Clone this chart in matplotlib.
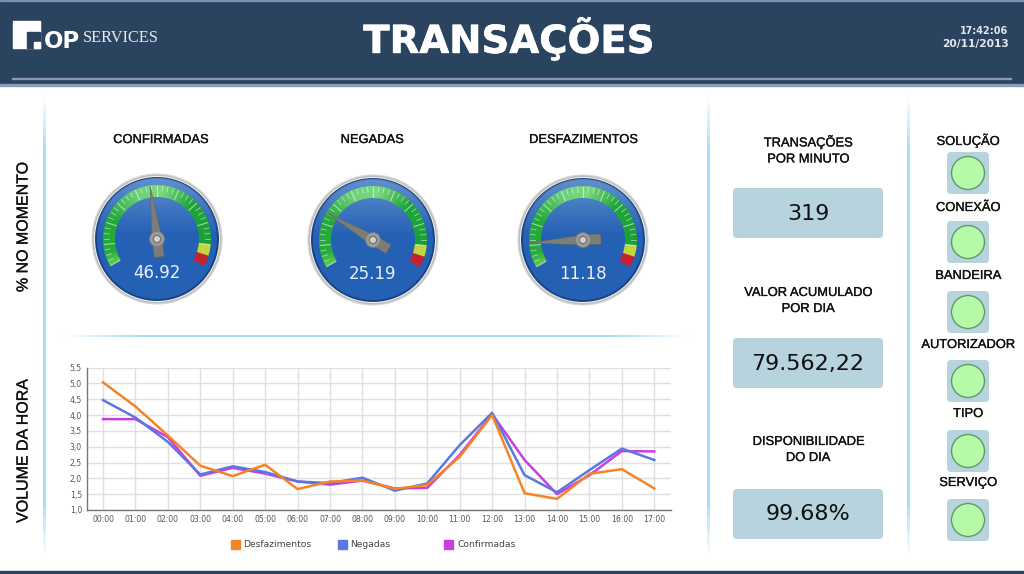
import numpy as np
import matplotlib
matplotlib.use('Agg')
import matplotlib.pyplot as plt
import matplotlib.patheffects as pe
from matplotlib.colors import LinearSegmentedColormap, to_rgb
from matplotlib.patches import Circle, FancyBboxPatch, Polygon, Rectangle

# chart values
hours = ['00:00', '01:00', '02:00', '03:00', '04:00', '05:00', '06:00', '07:00', '08:00',
         '09:00', '10:00', '11:00', '12:00', '13:00', '14:00', '15:00', '16:00', '17:00']
desfazimentos = [5.03, 4.27, 3.35, 2.40, 2.07, 2.43, 1.66, 1.90, 1.93,
                 1.67, 1.79, 2.68, 4.00, 1.53, 1.35, 2.14, 2.29, 1.68]
negadas = [4.47, 3.92, 3.15, 2.12, 2.38, 2.20, 1.90, 1.85, 2.02,
           1.61, 1.84, 3.05, 4.07, 2.10, 1.56, 2.26, 2.94, 2.58]
confirmadas = [3.87, 3.87, 3.30, 2.08, 2.33, 2.15, 1.90, 1.80, 1.93,
               1.68, 1.70, 2.74, 4.03, 2.58, 1.50, 2.10, 2.86, 2.85]
y_ticks = [1.0, 1.5, 2.0, 2.5, 3.0, 3.5, 4.0, 4.5, 5.0, 5.5]

gauge_names = ['CONFIRMADAS', 'NEGADAS', 'DESFAZIMENTOS']
gauge_values = [46.92, 25.19, 11.18]

card_titles = ['TRANSAÇÕES\nPOR MINUTO', 'VALOR ACUMULADO\nPOR DIA', 'DISPONIBILIDADE\nDO DIA']
card_values = ['319', '79.562,22', '99.68%']
status_names = ['SOLUÇÃO', 'CONEXÃO', 'BANDEIRA', 'AUTORIZADOR', 'TIPO', 'SERVIÇO']

ORANGE = '#f58426'
BLUE = '#5a78e0'
MAGENTA = '#c83fe0'
NAVY = '#2a435e'
SANS = 'Liberation Sans'
HEAVY = [pe.withStroke(linewidth=0.22, foreground='#111111')]

fig = plt.figure(figsize=(10.24, 5.74), dpi=100, facecolor='white')

# whole page axes, in pixels
page = fig.add_axes([0, 0, 1, 1])
page.set_xlim(0, 1024)
page.set_ylim(574, 0)
page.axis('off')

# header
page.add_patch(Rectangle((0, 0), 1024, 84, color=NAVY, zorder=1))
page.add_patch(Rectangle((0, 0), 1024, 1.2, color='#7f8db0', zorder=2))
page.add_patch(Rectangle((12, 77.5), 999, 1.8, color='#8d98ad', zorder=2))
page.add_patch(Rectangle((0, 84), 1024, 1.5, color='#8d9ab8', zorder=2))
page.add_patch(Rectangle((0, 571), 1024, 3, color=NAVY, zorder=2))

# logo
page.add_patch(Rectangle((12.7, 20.7), 27.3, 27, color='white', zorder=3))
page.add_patch(Rectangle((27, 32), 13, 15.7, color=NAVY, zorder=4))
page.add_patch(Rectangle((34.3, 41.7), 5.7, 6, color='white', zorder=5))
page.text(43.5, 47.5, 'OP', color='white', fontsize=16.5, fontweight='bold', family='DejaVu Sans',
          va='baseline', ha='left', zorder=5)
page.text(82.5, 42, 'SERVICES', color='#e8ecf0', fontsize=11.7, family='Liberation Serif',
          va='baseline', ha='left', zorder=5)

page.text(509, 38.5, 'TRANSAÇÕES', color='white', fontsize=27.8, fontweight='bold', family='DejaVu Sans',
          ha='center', va='center', zorder=5,
          path_effects=[pe.withStroke(linewidth=0.4, foreground='white')])
page.text(1008, 31, '17:42:06', color='#e4e8ee', fontsize=6.9, fontweight='bold',
          family='DejaVu Sans', ha='right', va='center', zorder=5)
page.text(1009, 44, '20/11/2013', color='#e4e8ee', fontsize=7.7, fontweight='bold',
          family='DejaVu Sans', ha='right', va='center', zorder=5)

# fading separators
fade = LinearSegmentedColormap.from_list(
    'fade', [(0, '#ffffff'), (0.12, '#a9dcf5'), (0.88, '#a9dcf5'), (1, '#ffffff')])
ramp = np.linspace(0, 1, 200)
for x in [44, 708, 908]:
    page.imshow(ramp[:, None], cmap=fade, extent=(x - 1.4, x + 1.4, 558, 94), aspect='auto', zorder=1)
page.imshow(ramp[None, :], cmap=fade, extent=(60, 692, 337.5, 335.5), aspect='auto', zorder=1)

page.text(23, 227, '% NO MOMENTO', rotation=90, fontsize=11.5, family=SANS, ha='center', va='center',
          color='#111111', path_effects=HEAVY)
page.text(23, 451, 'VOLUME DA HORA', rotation=90, fontsize=11.5, family=SANS, ha='center', va='center',
          color='#111111', path_effects=HEAVY)


def polar(cx, cy, r, angle):
    # angle in degrees, clockwise from straight up
    a = np.radians(angle)
    return cx + r * np.sin(a), cy - r * np.cos(a)


def band_color(v):
    stops = [0, 6, 22, 40, 52, 68, 90]
    cols = np.array([to_rgb(c) for c in ['#5ccc4a', '#26ab3a', '#24a838', '#6fd378', '#7cd97e', '#1fa637', '#1aa035']])
    return [np.interp(v, stops, cols[:, i]) for i in range(3)]


def draw_gauge(cx, cy, value, name, label_x):
    page.text(label_x, 140, name, fontsize=9.3, family=SANS, ha='center', va='center', color='#111111',
              zorder=5, path_effects=HEAVY)

    # chrome rim and dial
    page.add_patch(Circle((cx, cy), 65, fc='#bdbdbd', ec='#d8d8d8', lw=0.8, zorder=3))
    page.add_patch(Circle((cx, cy), 63, fc='#f0f0f0', ec='none', zorder=3))
    dial = Circle((cx, cy), 61, fc='#2460b4', ec='#1a4384', lw=1.4, zorder=3)
    page.add_patch(dial)

    # soft gloss on the upper part of the dial
    gloss = np.zeros((100, 2, 4))
    gloss[..., :3] = to_rgb('#9cc0ea')
    gloss[..., 3] = np.linspace(0.5, 0.0, 100)[:, None]
    im = page.imshow(gloss, extent=(cx - 61, cx + 61, cy - 4, cy - 61), aspect='auto', zorder=3.5)
    im.set_clip_path(dial)

    # coloured scale
    vals = np.linspace(0, 100, 101)
    for v0, v1 in zip(vals[:-1], vals[1:]):
        if v0 >= 95:
            col = '#c8202e'
        elif v0 >= 90:
            col = '#c6d83c'
        else:
            col = band_color(v0)
        a = np.linspace(-120 + 2.4 * v0, -120 + 2.4 * min(v1 + 0.2, 100), 4)
        outer = [polar(cx, cy, 54, t) for t in a]
        inner = [polar(cx, cy, 42, t) for t in a[::-1]]
        page.add_patch(Polygon(outer + inner, fc=col, ec='none', zorder=4))

    # tick marks
    for i, v in enumerate(np.arange(0, 90.1, 2.5)):
        t = -120 + 2.4 * v
        r0 = 43 if i % 4 == 0 else 48
        x0, y0 = polar(cx, cy, r0, t)
        x1, y1 = polar(cx, cy, 53, t)
        page.plot([x0, x1], [y0, y1], color='white', lw=0.6 if i % 4 else 0.8, alpha=0.55, zorder=5)

    page.text(cx, cy + 34, f'{value:.2f}', color='#e8f0fa', fontsize=12, family='DejaVu Sans',
              ha='center', va='center', zorder=6)

    # needle
    t = -120 + 2.4 * value
    tip = polar(cx, cy, 53, t)
    lx, ly = polar(cx, cy, 5, t - 90)
    rx, ry = polar(cx, cy, 5, t + 90)
    tail_c = polar(cx, cy, -18, t)
    tl = (tail_c[0] + (lx - cx), tail_c[1] + (ly - cy))
    tr = (tail_c[0] + (rx - cx), tail_c[1] + (ry - cy))
    page.add_patch(Polygon([tip, (rx, ry), tr, tl, (lx, ly)], fc='#7d7d78', ec='#66665f', lw=0.4, zorder=7))
    page.add_patch(Circle((cx, cy), 7.5, fc='#9b9b98', ec='#777777', lw=0.5, zorder=8))
    page.add_patch(Circle((cx, cy), 3.6, fc='#d0d0cc', ec='#6e6e6e', lw=0.8, zorder=9))


for cx, cy, val, name, lab_x in zip([157, 373, 583], [239, 240, 240], gauge_values, gauge_names, [160.5, 372, 583]):
    draw_gauge(cx, cy, val, name, lab_x)

# imshow moves the limits, put the pixel frame back
page.set_xlim(0, 1024)
page.set_ylim(574, 0)

# cards
for title, val, y_t, y_box in zip(card_titles, card_values, [150, 301, 450], [188, 338, 489]):
    page.text(808, y_t, title, fontsize=9.3, family=SANS, ha='center', va='center', linespacing=1.45,
              color='#111111', zorder=5, path_effects=HEAVY)
    page.add_patch(FancyBboxPatch((736, y_box + 3), 144, 44, boxstyle='round,pad=3,rounding_size=4',
                                  fc='#b7d3de', ec='none', zorder=3))
    page.text(808, y_box + 25.5, val, fontsize=16, family='DejaVu Sans', ha='center', va='center',
              color='#111111', zorder=5)

# status lights
for name, y_l, y_c in zip(status_names, [141, 208, 276, 345, 414, 483], [172, 241, 311, 380, 450, 519]):
    page.text(968, y_l, name, fontsize=9.3, family=SANS, ha='center', va='center', color='#111111',
              zorder=5, path_effects=HEAVY)
    page.add_patch(FancyBboxPatch((950, y_c - 17), 36, 36, boxstyle='round,pad=3,rounding_size=4',
                                  fc='#b7d3de', ec='none', zorder=3))
    page.add_patch(Circle((968, y_c + 1), 16.5, fc='#b6f9a8', ec='#5f9c68', lw=1.0, zorder=4))

# line chart
left, right, top, bottom = 86.8, 670.5, 367.5, 510
ax = fig.add_axes([left / 1024, 1 - bottom / 574, (right - left) / 1024, (bottom - top) / 574])
ax.set_facecolor('white')
ax.set_xlim(-0.5, 17.5)
ax.set_ylim(1.0, 5.5)
ax.set_xticks(range(len(hours)))
ax.set_xticklabels(hours)
ax.set_yticks(y_ticks)
ax.set_yticklabels([f'{v:.1f}'.replace('.', ',') for v in y_ticks])
ax.tick_params(length=0, labelsize=5.6, labelcolor='#555555', pad=3.5)
for label in ax.get_xticklabels() + ax.get_yticklabels():
    label.set_family('DejaVu Sans')
ax.grid(True, color='#e0e0e0', lw=1.0)
ax.set_axisbelow(True)
for side in ['top', 'right']:
    ax.spines[side].set_visible(False)
for side in ['left', 'bottom']:
    ax.spines[side].set_color('#777777')
    ax.spines[side].set_linewidth(1.0)

x = np.arange(len(hours))
ax.plot(x, confirmadas, color=MAGENTA, lw=1.8, label='Confirmadas')
ax.plot(x, negadas, color=BLUE, lw=1.8, label='Negadas')
ax.plot(x, desfazimentos, color=ORANGE, lw=1.8, label='Desfazimentos')

# legend, spaced by hand like the original
for name, col, lx in zip(['Desfazimentos', 'Negadas', 'Confirmadas'], [ORANGE, BLUE, MAGENTA], [230.5, 337.5, 444]):
    page.add_patch(Rectangle((lx, 540), 9, 9, color=col, zorder=3))
    page.text(lx + 13, 544.5, name, fontsize=6.6, family='DejaVu Sans', color='#444444', ha='left', va='center', zorder=3)

fig.savefig('out.png', dpi=100)
